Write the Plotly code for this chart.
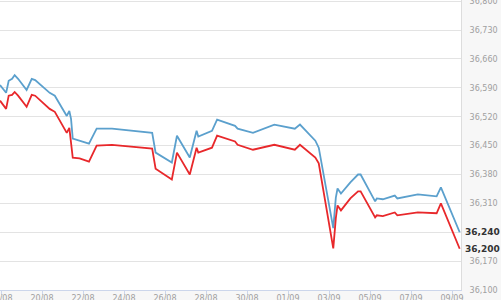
import plotly.graph_objects as go

times = [
    "2023-08-17 22:50", "2023-08-18 06:00", "2023-08-18 09:00", "2023-08-18 13:00",
    "2023-08-18 16:00", "2023-08-18 20:00", "2023-08-19 06:00", "2023-08-19 12:00",
    "2023-08-19 16:00", "2023-08-20 09:00", "2023-08-20 15:00", "2023-08-21 05:00",
    "2023-08-21 08:00", "2023-08-21 10:00", "2023-08-21 12:00", "2023-08-21 20:00",
    "2023-08-22 07:00", "2023-08-22 16:00", "2023-08-23 10:00", "2023-08-25 09:00",
    "2023-08-25 13:00", "2023-08-26 08:00", "2023-08-26 14:00", "2023-08-27 05:00",
    "2023-08-27 13:00", "2023-08-27 15:00", "2023-08-28 07:00", "2023-08-28 13:00",
    "2023-08-29 10:00", "2023-08-29 13:00", "2023-08-30 07:00", "2023-08-31 08:00",
    "2023-09-01 08:00", "2023-09-01 14:00", "2023-09-02 08:00", "2023-09-02 12:00",
    "2023-09-03 05:00", "2023-09-03 08:00", "2023-09-03 10:00", "2023-09-03 14:00",
    "2023-09-04 01:00", "2023-09-04 10:00", "2023-09-04 13:00", "2023-09-05 06:00",
    "2023-09-05 08:00", "2023-09-05 15:00", "2023-09-06 05:00", "2023-09-06 08:00",
    "2023-09-07 08:00", "2023-09-08 06:00", "2023-09-08 11:00", "2023-09-09 09:00",
]

blue_values = [
    36597, 36578, 36607, 36612, 36621, 36612, 36585, 36612, 36609, 36578, 36571, 36522,
    36534, 36515, 36467, 36462, 36455, 36491, 36491, 36481, 36433, 36409, 36474, 36421,
    36486, 36472, 36486, 36513, 36498, 36491, 36481, 36501, 36491, 36501, 36462, 36445,
    36250, 36324, 36346, 36334, 36361, 36380, 36380, 36315, 36322, 36320, 36329, 36322,
    36332, 36327, 36349, 36240,
]

red_values = [
    36559, 36539, 36571, 36573, 36580, 36571, 36544, 36573, 36571, 36539, 36532, 36481,
    36493, 36462, 36421, 36419, 36411, 36450, 36452, 36443, 36394, 36368, 36433, 36380,
    36445, 36433, 36445, 36474, 36460, 36452, 36440, 36452, 36440, 36452, 36421, 36407,
    36201, 36274, 36305, 36293, 36322, 36339, 36339, 36276, 36281, 36279, 36288, 36281,
    36288, 36286, 36310, 36200,
]

y_ticks = list(range(36100, 36801, 70))
last_labels = [(36240, "36,240"), (36200, "36,200")]
last_vals = [v for v, _ in last_labels]
y_tick_text = ["" if v in last_vals else f"{v:,}" for v in y_ticks]

panel_bg = "#f7f7f7"
font_family = "DejaVu Sans"

fig = go.Figure()
fig.add_trace(go.Scatter(x=times, y=blue_values, mode="lines",
                         line=dict(color="#5ba0cd", width=1.8), showlegend=False))
fig.add_trace(go.Scatter(x=times, y=red_values, mode="lines",
                         line=dict(color="#e8282b", width=1.8), showlegend=False))

for val, txt in last_labels:
    fig.add_annotation(x=1, xref="paper", y=val, yref="y", text=f"<b>{txt}</b>",
                       showarrow=False, xanchor="left", xshift=3,
                       font=dict(family=font_family, size=9, color="#333333"),
                       borderpad=0)

fig.update_layout(
    width=501, height=300,
    margin=dict(l=0, r=40, t=0, b=10),
    paper_bgcolor=panel_bg, plot_bgcolor="white",
    template="none",
    font=dict(family=font_family, size=8, color="#a0a0a0"),
    xaxis=dict(
        type="date",
        range=["2023-08-17 22:50", "2023-09-09 10:32"],
        tick0="2023-08-18", dtick=2 * 86400000, tickformat="%d/%m",
        showgrid=False, zeroline=False,
        showline=True, linecolor="#ccd6eb", linewidth=1,
        ticks="outside", ticklen=4, tickcolor="#ccd6eb",
        ticklabelstandoff=-4, ticklabeloverflow="allow",
        tickfont=dict(family=font_family, size=8, color="#a0a0a0"),
        automargin=False,
    ),
    yaxis=dict(
        side="right", range=[36100, 36803],
        tickvals=y_ticks, ticktext=y_tick_text,
        showgrid=True, gridcolor="#e3e3e3", gridwidth=1, zeroline=False,
        showline=True, linecolor="#dddddd", linewidth=1,
        ticks="", ticklabelstandoff=6, ticklabeloverflow="allow",
        tickfont=dict(family=font_family, size=8, color="#a0a0a0"),
        automargin=False,
    ),
)

fig.write_html("out.html")
